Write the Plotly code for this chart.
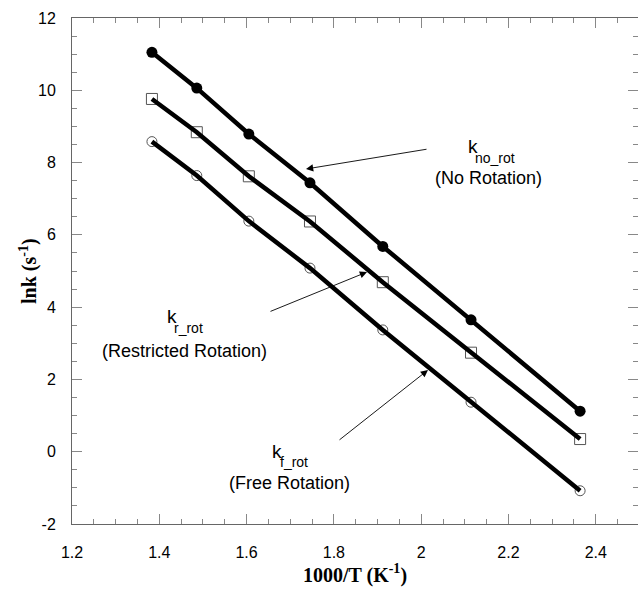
import plotly.graph_objects as go

# Data
temps_K = [723, 673, 623, 573, 523, 473, 423]
inv_T = [1000.0 / t for t in temps_K]
lnk_no_rot = [11.05, 10.06, 8.79, 7.44, 5.68, 3.65, 1.12]
lnk_r_rot = [9.76, 8.84, 7.62, 6.37, 4.69, 2.74, 0.35]
lnk_f_rot = [8.58, 7.64, 6.38, 5.08, 3.37, 1.37, -1.08]

x_tick_vals = [1.2, 1.4, 1.6, 1.8, 2.0, 2.2, 2.4]
x_tick_text = ["1.2", "1.4", "1.6", "1.8", "2", "2.2", "2.4"]
y_tick_vals = [-2, 0, 2, 4, 6, 8, 10, 12]
y_tick_text = ["-2", "0", "2", "4", "6", "8", "10", "12"]

W, H = 638, 591
L, R, T, B = 72, 0, 18, 67
XMIN, XMAX = 1.2, 2.4967
YMIN, YMAX = -2, 12


def px2x(px):
    return XMIN + (px - L) / (W - L - R) * (XMAX - XMIN)


def py2y(py):
    return YMAX - (py - T) / (H - T - B) * (YMAX - YMIN)


fig = go.Figure()

series = [
    (lnk_no_rot, dict(symbol="circle", size=11, color="black", line=dict(width=0))),
    (lnk_r_rot, dict(symbol="square-open", size=11, color="#555555", line=dict(width=1))),
    (lnk_f_rot, dict(symbol="circle-open", size=10, color="#555555", line=dict(width=1))),
]
for ys, mk in series:
    fig.add_trace(go.Scatter(x=inv_T, y=ys, mode="markers", marker=mk,
                             showlegend=False, hoverinfo="skip"))
for ys, mk in series:
    fig.add_trace(go.Scatter(x=inv_T, y=ys, mode="lines",
                             line=dict(color="black", width=4.5),
                             showlegend=False, hoverinfo="skip"))

sans = "Liberation Sans, Arial, sans-serif"
serif = "Liberation Serif, Times New Roman, serif"

annotations = []


def text(px, py, s, size=16):
    annotations.append(dict(x=px2x(px), y=py2y(py), xref="x", yref="y", text=s,
                            showarrow=False, font=dict(family=sans, size=size, color="black"),
                            xanchor="center", yanchor="middle"))


def arrow(tail, tip):
    annotations.append(dict(x=px2x(tip[0]), y=py2y(tip[1]), xref="x", yref="y",
                            ax=px2x(tail[0]), ay=py2y(tail[1]), axref="x", ayref="y",
                            text="", showarrow=True, arrowhead=2, arrowsize=1.6,
                            arrowwidth=0.9, arrowcolor="black"))


# No rotation
text(473, 146, "k", 19)
text(495, 158, "no_rot", 14)
text(488, 178, "(No Rotation)", 18)
arrow((428, 149), (306, 169))
# Restricted rotation
text(172, 316, "k", 19)
text(188, 328, "r_rot", 14)
text(184, 351, "(Restricted Rotation)", 18)
arrow((269, 312), (367, 272))
# Free rotation
text(277, 451, "k", 19)
text(294, 462, "f_rot", 14)
text(289, 483, "(Free Rotation)", 18)
arrow((338, 441), (428, 370))

# y-axis title
annotations.append(dict(x=(28 - L) / (W - L - R), y=0.5, xref="paper", yref="paper",
                        text="<b>lnk (s<sup>-1</sup>)</b>", textangle=-90, showarrow=False,
                        xanchor="center", yanchor="middle",
                        font=dict(family=serif, size=20, color="black")))

axis_common = dict(
    showgrid=False, zeroline=False, showline=True, linecolor="#666666", linewidth=1,
    ticks="inside", ticklen=10, tickcolor="#888888", tickwidth=1, mirror="allticks",
    tickfont=dict(family=sans, size=16, color="black"),
)

fig.update_layout(
    width=W, height=H,
    margin=dict(l=L, r=R, t=T, b=B),
    paper_bgcolor="white", plot_bgcolor="white",
    annotations=annotations,
    xaxis=dict(range=[XMIN, XMAX], tickvals=x_tick_vals, ticktext=x_tick_text,
               minor=dict(dtick=0.05, ticks="inside", ticklen=5, tickcolor="#888888"),
               ticklabelstandoff=14,
               title=dict(text="<b>1000/T (K<sup>-1</sup>)</b>", standoff=6,
                          font=dict(family=serif, size=20, color="black")),
               **axis_common),
    yaxis=dict(range=[YMIN, YMAX], tickvals=y_tick_vals, ticktext=y_tick_text,
               minor=dict(dtick=0.5, ticks="inside", ticklen=5, tickcolor="#888888"),
               ticklabelstandoff=12,
               **axis_common),
)

fig.write_html("out.html")
